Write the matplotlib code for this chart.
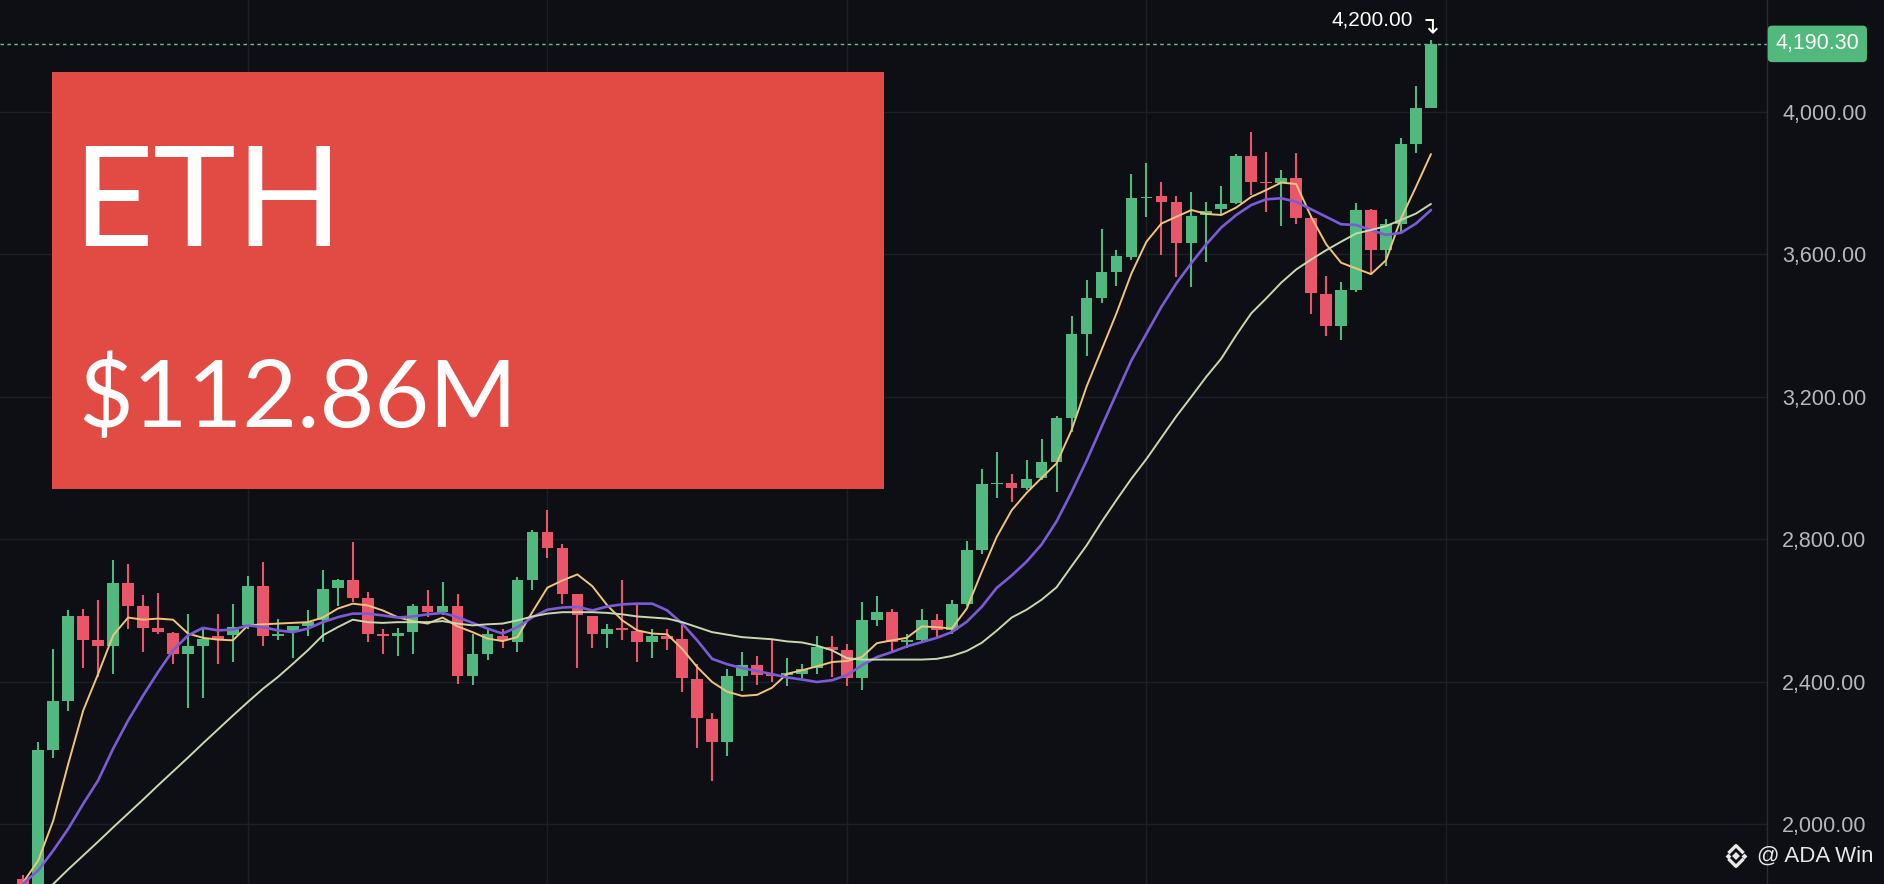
import matplotlib
matplotlib.use("Agg")
import matplotlib.pyplot as plt
import matplotlib.transforms as mtransforms
from matplotlib.lines import Line2D
from matplotlib.patches import Rectangle
import numpy as np

# ─────────────────────────────────────────────
#  Dati
# ─────────────────────────────────────────────

opens = [1845, 1800, 2209, 2347, 2583, 2516, 2500, 2678, 2611, 2550,
         2537, 2478, 2500, 2527, 2530, 2558, 2668, 2527, 2542, 2555,
         2572, 2663, 2684, 2635, 2535, 2527, 2539, 2611, 2595, 2611,
         2416, 2477, 2527, 2511, 2686, 2820, 2775, 2645, 2583, 2535,
         2551, 2542, 2511, 2527, 2521, 2408, 2296, 2230, 2415, 2448,
         2422, 2420, 2422, 2439, 2497, 2488, 2411, 2572, 2596, 2511,
         2516, 2572, 2546, 2617, 2769, 2954, 2958, 2944, 2973, 3017,
         3140, 3375, 3478, 3551, 3593, 3758, 3763, 3747, 3630, 3710,
         3726, 3743, 3876, 3803, 3801, 3813, 3702, 3488, 3398, 3499,
         3724, 3611, 3684, 3909, 4009]
highs = [1856, 2230, 2492, 2600, 2605, 2628, 2741, 2729, 2644, 2650,
         2540, 2589, 2549, 2589, 2617, 2696, 2736, 2577, 2556, 2600,
         2713, 2689, 2792, 2652, 2549, 2551, 2617, 2656, 2680, 2645,
         2533, 2544, 2549, 2694, 2825, 2881, 2786, 2647, 2585, 2561,
         2686, 2621, 2549, 2549, 2558, 2450, 2312, 2436, 2482, 2471,
         2516, 2466, 2449, 2527, 2527, 2505, 2624, 2640, 2605, 2533,
         2605, 2589, 2628, 2796, 2998, 3044, 2983, 3022, 3082, 3145,
         3426, 3527, 3672, 3613, 3825, 3857, 3802, 3763, 3774, 3747,
         3791, 3881, 3944, 3886, 3836, 3883, 3704, 3538, 3521, 3743,
         3726, 3700, 3925, 4072, 4200]
lows = [1790, 1790, 2186, 2319, 2439, 2413, 2422, 2549, 2483, 2535,
        2450, 2327, 2355, 2450, 2455, 2548, 2499, 2518, 2467, 2527,
        2511, 2611, 2624, 2511, 2477, 2472, 2477, 2581, 2586, 2394,
        2390, 2460, 2495, 2483, 2656, 2747, 2619, 2439, 2495, 2495,
        2518, 2455, 2467, 2490, 2371, 2214, 2120, 2190, 2375, 2392,
        2399, 2387, 2411, 2422, 2413, 2387, 2377, 2555, 2480, 2495,
        2508, 2521, 2533, 2612, 2759, 2915, 2904, 2938, 2965, 2933,
        3101, 3314, 3462, 3510, 3585, 3703, 3597, 3535, 3508, 3579,
        3710, 3740, 3766, 3719, 3679, 3684, 3432, 3370, 3359, 3494,
        3548, 3566, 3656, 3883, 4009]
closes = [1800, 2207, 2347, 2583, 2518, 2500, 2678, 2612, 2551, 2539,
          2478, 2499, 2521, 2521, 2553, 2668, 2527, 2535, 2555, 2567,
          2661, 2684, 2635, 2535, 2527, 2537, 2611, 2595, 2611, 2416,
          2477, 2533, 2516, 2684, 2820, 2775, 2647, 2586, 2535, 2549,
          2544, 2511, 2527, 2521, 2411, 2299, 2230, 2415, 2448, 2420,
          2415, 2424, 2436, 2497, 2488, 2411, 2572, 2596, 2511, 2518,
          2572, 2546, 2617, 2769, 2954, 2958, 2945, 2970, 3017, 3140,
          3375, 3478, 3551, 3595, 3757, 3761, 3747, 3630, 3707, 3722,
          3741, 3876, 3803, 3799, 3813, 3702, 3490, 3398, 3499, 3724,
          3611, 3684, 3909, 4009, 4190.30]

# medie mobili (giallo = veloce, viola = media, chiaro = lenta)
ma_fast = [1837, 1898, 2010, 2169, 2319, 2422, 2530, 2580, 2574, 2577,
           2574, 2535, 2523, 2518, 2516, 2558, 2561, 2563, 2565, 2567,
           2580, 2605, 2619, 2614, 2600, 2581, 2570, 2563, 2580, 2555,
           2539, 2521, 2514, 2525, 2596, 2664, 2684, 2701, 2668, 2614,
           2572, 2544, 2535, 2533, 2492, 2441, 2399, 2372, 2360, 2363,
           2383, 2422, 2432, 2443, 2455, 2458, 2469, 2508, 2516, 2523,
           2555, 2553, 2549, 2605, 2708, 2806, 2881, 2930, 2972, 3013,
           3106, 3228, 3331, 3434, 3546, 3635, 3686, 3705, 3724, 3713,
           3710, 3731, 3761, 3780, 3801, 3797, 3705, 3628, 3576, 3560,
           3544, 3583, 3700, 3789, 3881]
ma_mid = [1834, 1870, 1926, 1987, 2057, 2123, 2212, 2291, 2361, 2427,
          2488, 2530, 2551, 2544, 2546, 2558, 2553, 2544, 2539, 2549,
          2567, 2581, 2591, 2591, 2586, 2580, 2583, 2589, 2593, 2581,
          2565, 2549, 2535, 2553, 2581, 2602, 2608, 2610, 2600, 2611,
          2617, 2619, 2619, 2600, 2563, 2516, 2464, 2449, 2438, 2430,
          2421, 2412, 2406, 2399, 2404, 2418, 2446, 2469, 2483, 2499,
          2511, 2523, 2539, 2568, 2610, 2663, 2698, 2737, 2785, 2850,
          2932, 3020, 3115, 3209, 3302, 3377, 3452, 3518, 3575, 3628,
          3675, 3710, 3738, 3754, 3757, 3747, 3726, 3705, 3684, 3682,
          3668, 3654, 3660, 3686, 3724]
# la media lenta entra nel grafico dalla seconda candela
ma_slow = [1795, 1832, 1873, 1912, 1951, 1991, 2030, 2069, 2109,
           2148, 2187, 2227, 2266, 2305, 2343, 2380, 2413, 2450, 2488,
           2530, 2553, 2574, 2567, 2565, 2567, 2567, 2567, 2570, 2563,
           2558, 2561, 2563, 2572, 2583, 2591, 2595, 2595, 2595, 2593,
           2589, 2583, 2580, 2577, 2567, 2553, 2539, 2532, 2525, 2522,
           2519, 2513, 2510, 2501, 2488, 2466, 2462, 2462, 2462, 2462,
           2462, 2464, 2472, 2486, 2509, 2543, 2580, 2602, 2630, 2665,
           2724, 2782, 2848, 2910, 2970, 3025, 3085, 3145, 3200, 3256,
           3307, 3373, 3434, 3476, 3520, 3557, 3585, 3611, 3635, 3658,
           3668, 3679, 3696, 3714, 3741]

price_ticks = [2000, 2400, 2800, 3200, 3600, 4000]
grid_x = [15, 35, 55, 75, 95]
last_price = 4190.30
session_high = 4200.00

title_text = "ETH"
amount_text = "$112.86M"
watermark_text = "@ ADA Win"

# ─────────────────────────────────────────────
#  Stile
# ─────────────────────────────────────────────

BG = "#0e0f14"
GRID = "#1d1f25"
GREEN = "#51b97f"
RED = "#e9566a"
YELLOW = "#f0c47c"
PURPLE = "#7c5bd8"
PALE = "#c9d9ad"
BOX_RED = "#e24a44"
TICK_COLOR = "#b4b7bd"
TAG_GREEN = "#52b97c"

W, H = 1884, 884
AX_RIGHT = 1767


def fmt_price(v):
    return f"{v:,.2f}"


fig = plt.figure(figsize=(W / 100, H / 100), dpi=100, facecolor=BG)
ax = fig.add_axes([0, 0, AX_RIGHT / W, 1])
ax.set_facecolor(BG)

x = np.arange(len(opens))
o = np.array(opens, dtype=float)
c = np.array(closes, dtype=float)
up = c >= o
colors = np.where(up, GREEN, RED)

# candele
ax.vlines(x, lows, highs, colors=colors, linewidth=1.5, zorder=3)
body_bottom = np.minimum(o, c)
body_h = np.maximum(np.abs(c - o), 3.0)
ax.bar(x, body_h, bottom=body_bottom, width=0.78, color=colors,
       linewidth=0, zorder=4)

# medie mobili
ax.plot(x, ma_fast, color=YELLOW, lw=1.4, zorder=5, solid_capstyle="round")
ax.plot(x, ma_mid, color=PURPLE, lw=1.9, zorder=5, solid_capstyle="round")
ax.plot(x[1:], ma_slow, color=PALE, lw=1.4, zorder=5, solid_capstyle="round")

# assi
ax.set_xlim(-23.3 / 14.975, (AX_RIGHT - 23.3) / 14.975)
ax.set_ylim(1832, 4313.5)
ax.set_xticks(grid_x)
ax.set_yticks(price_ticks)
ax.set_yticklabels([fmt_price(p) for p in price_ticks])
ax.yaxis.tick_right()
ax.tick_params(axis="x", length=0, labelbottom=False)
ax.tick_params(axis="y", length=0, pad=11, labelcolor=TICK_COLOR,
               labelsize=15.5)
for lab in ax.get_yticklabels():
    lab.set_fontfamily("Liberation Sans")
ax.grid(True, color=GRID, lw=1.0)
ax.set_axisbelow(True)
for side in ["top", "left", "bottom"]:
    ax.spines[side].set_visible(False)
ax.spines["right"].set_color("#2a2d35")
ax.spines["right"].set_linewidth(1.0)

# linea ultimo prezzo + etichetta
ax.axhline(last_price, color="#66c396", lw=1.0, ls=(0, (2.5, 2.5)), zorder=2)
blend = mtransforms.blended_transform_factory(ax.transAxes, ax.transData)
ax.text(1.0048, last_price, fmt_price(last_price), transform=blend,
        ha="left", va="center", color="white", fontsize=15.5,
        family="Liberation Sans", clip_on=False, zorder=10,
        bbox=dict(boxstyle="round,pad=0.36,rounding_size=0.2",
                  fc=TAG_GREEN, ec="none"))

# massimo
ax.annotate(fmt_price(session_high), xy=(x[-1], session_high),
            xytext=(-13, 8), textcoords="offset points",
            ha="right", va="bottom", color="white", fontsize=15,
            family="Liberation Sans", zorder=10)
ax.annotate("\u21b4", xy=(x[-1], session_high),
            xytext=(-1, 2), textcoords="offset points",
            ha="center", va="bottom", color="white", fontsize=17,
            family="DejaVu Sans", zorder=10)

# ─────────────────────────────────────────────
#  Riquadro rosso con testo
# ─────────────────────────────────────────────

box = Rectangle((51.7 / W, 1 - 489 / H), (884.3 - 51.7) / W, (489 - 72) / H,
                transform=fig.transFigure, fc=BOX_RED, ec="none", zorder=5)
fig.patches.append(box)
fig.text(72 / W, 1 - 246.3 / H, title_text, color="white", fontsize=101,
         family="Lato", va="baseline", ha="left", zorder=6)
fig.text(78 / W, 1 - 426.5 / H, amount_text, color="white", fontsize=68,
         family="Lato", va="baseline", ha="left", zorder=6)

# ─────────────────────────────────────────────
#  Watermark
# ─────────────────────────────────────────────

fig.text(1757 / W, 1 - 856 / H, watermark_text, color="#e8e8e8",
         fontsize=16, family="Liberation Sans", va="center", ha="left")
lx, ly = 1736 / W, 1 - 856 / H
dx, dy = 8 / W, 8 / H
logo = [
    Line2D([lx], [ly], marker="D", ms=4.5, color="#e8e8e8", mew=0),
    Line2D([lx - dx], [ly], marker="D", ms=3, color="#e8e8e8", mew=0),
    Line2D([lx + dx], [ly], marker="D", ms=3, color="#e8e8e8", mew=0),
    Line2D([lx - dx * 0.8, lx, lx + dx * 0.8],
           [ly + dy * 0.5, ly + dy * 1.3, ly + dy * 0.5],
           color="#e8e8e8", lw=2.4),
    Line2D([lx - dx * 0.8, lx, lx + dx * 0.8],
           [ly - dy * 0.5, ly - dy * 1.3, ly - dy * 0.5],
           color="#e8e8e8", lw=2.4),
]
for art in logo:
    art.set_transform(fig.transFigure)
    fig.add_artist(art)

fig.savefig("out.png", dpi=100, facecolor=BG)
